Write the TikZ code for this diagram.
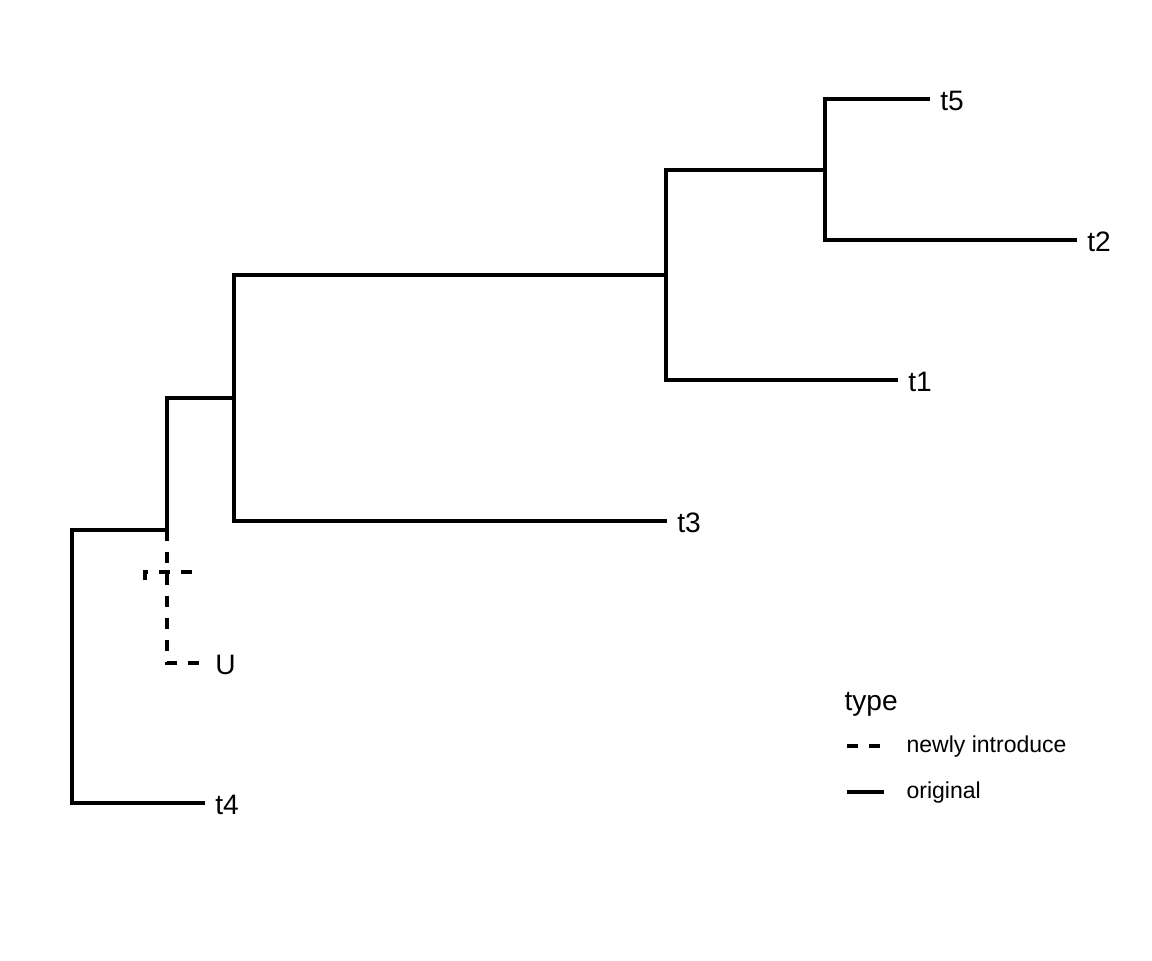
\documentclass[tikz,border=0pt]{standalone}
\usepackage{fontspec}
\setmainfont{Liberation Sans}
\usetikzlibrary{positioning}

\begin{document}
\begin{tikzpicture}[x=0.02cm,y=-0.02cm,line width=1.8pt,
        tip/.style={inner sep=0pt,font=\fontsize{16}{18}\selectfont},
        keytext/.style={anchor=west,inner sep=0pt,font=\fontsize{13.1}{15}\selectfont},
        newly/.style={dash pattern=on 6.5pt off 6pt}]
    \useasboundingbox (0,0) rectangle (1152,960);
    % inner nodes
    \coordinate (r) at (72,666);
    \coordinate (nA) at (167,530);
    \coordinate (nB) at (234,398);
    \coordinate (nC) at (666,275);
    \coordinate (nD) at (825,170);
    % tips
    \foreach \t/\x/\y in {t4/205/803, U/205/663, t3/667/521, t1/898/380, t5/930/99, t2/1077/240} {
        \coordinate (e\t) at (\x,\y);
        \node[tip,right=5pt of e\t,yshift=-1pt] (\t) {\t};
    }
    \draw (r) |- (nA);
    \draw (r) |- (et4);
    \draw (nA) |- (nB);
    \draw[newly] (nA) |- (eU);
    \draw[newly] (145,580) -- (145,572) -- (190,572) -- (190,580);
    \draw (nB) |- (nC);
    \draw (nB) |- (et3);
    \draw (nC) |- (nD);
    \draw (nC) |- (et1);
    \draw (nD) |- (et5);
    \draw (nD) |- (et2);
    % legend
    \node[tip,anchor=base west] (type) at (843,710) {type};
    \coordinate (k1) at (847,746);
    \coordinate (k2) at (847,792);
    \draw[newly] (k1) -- ++(37,0) coordinate (k1e);
    \draw (k2) -- ++(37,0) coordinate (k2e);
    \node[keytext] (newlytxt) at (905,747) {newly introduce};
    \node[keytext] (origtxt) at (905,793) {original};
\end{tikzpicture}
\end{document}
